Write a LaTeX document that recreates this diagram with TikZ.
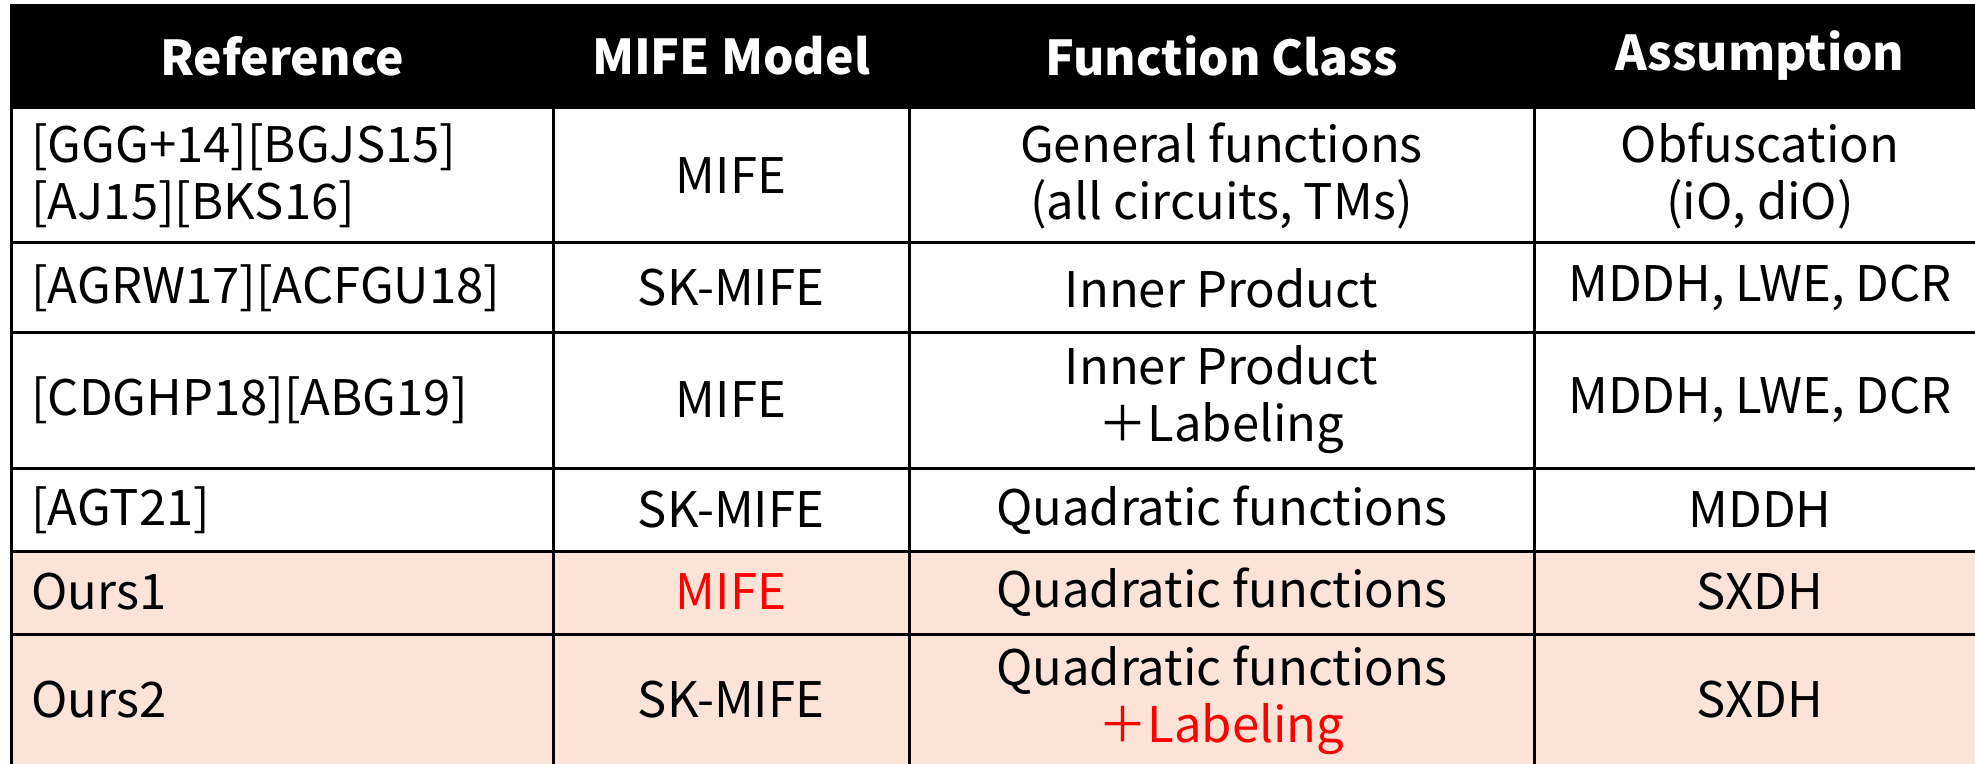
\documentclass[tikz,border=0pt]{standalone}
\usepackage{fontspec}
\setmainfont{Noto Sans CJK JP}
\definecolor{oursfill}{HTML}{FBE4D7}
\definecolor{hl}{HTML}{FF0000}
\begin{document}
\begin{tikzpicture}[x=0.5pt,y=-0.5pt,
  grid/.style={line width=1.5pt,draw=black},
  head/.style={inner sep=0pt,text=white,font=\bfseries\fontsize{24}{29}\selectfont},
  cell/.style={inner sep=0pt,align=center,font=\fontsize{24.5}{28.5}\selectfont},
  lcell/.style={cell,align=left,anchor=west}]
\useasboundingbox (0,0) rectangle (1975,764);

% header band and highlighted rows
\fill[black] (11,4) rectangle (1995,109);
\fill[oursfill] (11,551) rectangle (1995,780);

% rules
\foreach \y in {243,333,468,551,634}
  \draw[grid] (11,\y) -- (1995,\y);
\foreach \x in {553,909,1534}
  \draw[grid] (\x,109) -- (\x,780);
\draw[grid] (11,4) -- (11,780);

% header
\node[head] (h1) at (282,56) {Reference};
\node[head] (h2) at (731,56) {MIFE Model};
\node[head] (h3) at (1221.5,56) {Function Class};
\node[head] (h4) at (1760,56) {Assumption};

% row 1
\node[lcell] (a1) at (31,176) {[GGG+14][BGJS15]\\\relax[AJ15][BKS16]};
\node[cell] (b1) at (731,176) {MIFE};
\node[cell] (c1) at (1221.5,176) {General functions\\(all circuits, TMs)};
\node[cell] (d1) at (1760,176) {Obfuscation\\(iO, diO)};

% row 2
\node[lcell] (a2) at (31,288) {[AGRW17][ACFGU18]};
\node[cell] (b2) at (731,288) {SK-MIFE};
\node[cell] (c2) at (1221.5,288) {Inner Product};
\node[cell] (d2) at (1760,288) {MDDH, LWE, DCR};

% row 3
\node[lcell] (a3) at (31,400) {[CDGHP18][ABG19]};
\node[cell] (b3) at (731,400) {MIFE};
\node[cell] (c3) at (1221.5,400) {Inner Product\\＋Labeling};
\node[cell] (d3) at (1760,400) {MDDH, LWE, DCR};

% row 4
\node[lcell] (a4) at (31,510) {[AGT21]};
\node[cell] (b4) at (731,510) {SK-MIFE};
\node[cell] (c4) at (1221.5,510) {Quadratic functions};
\node[cell] (d4) at (1760,510) {MDDH};

% row 5
\node[lcell] (a5) at (31,592) {Ours1};
\node[cell,text=hl] (b5) at (731,592) {MIFE};
\node[cell] (c5) at (1221.5,592) {Quadratic functions};
\node[cell] (d5) at (1760,592) {SXDH};

% row 6
\node[lcell] (a6) at (31,700) {Ours2};
\node[cell] (b6) at (731,700) {SK-MIFE};
\node[cell] (c6) at (1221.5,700) {Quadratic functions\\\textcolor{hl}{＋Labeling}};
\node[cell] (d6) at (1760,700) {SXDH};
\end{tikzpicture}
\end{document}
